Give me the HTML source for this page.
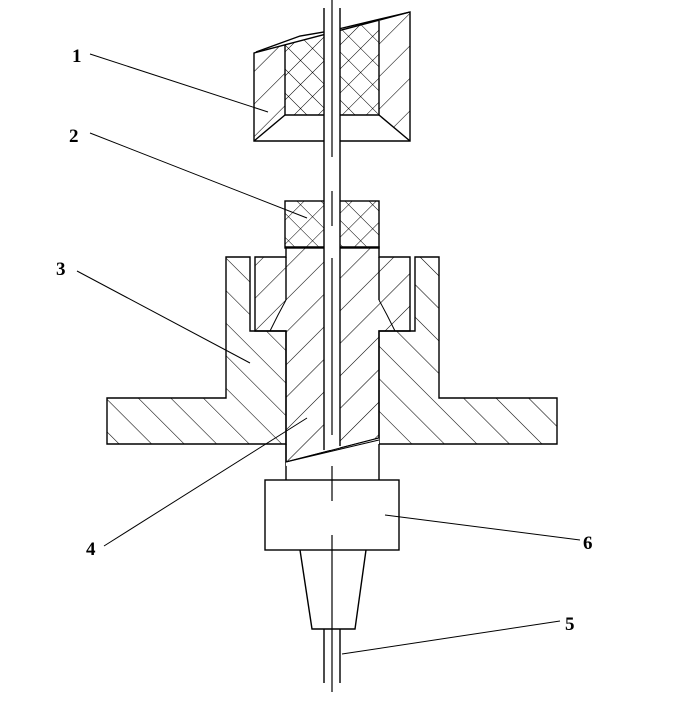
<!DOCTYPE html>
<html><head><meta charset="utf-8"><style>
html,body{margin:0;padding:0;background:#fff;}
svg{display:block;}
text{font-family:"Liberation Serif",serif;font-size:19px;font-weight:bold;}
</style></head><body>
<svg width="691" height="711" viewBox="0 0 691 711" xmlns="http://www.w3.org/2000/svg">
<defs>
<pattern id="hf" patternUnits="userSpaceOnUse" width="23" height="23" patternTransform="rotate(45)">
<line x1="0" y1="0" x2="0" y2="23" stroke="#000" stroke-width="1.1"/></pattern>
<pattern id="hb" patternUnits="userSpaceOnUse" width="23" height="23" patternTransform="rotate(-45)">
<line x1="0" y1="0" x2="0" y2="23" stroke="#000" stroke-width="1.1"/></pattern>
<pattern id="hx" patternUnits="userSpaceOnUse" width="17" height="17" patternTransform="rotate(45)">
<line x1="0" y1="0" x2="0" y2="17" stroke="#000" stroke-width="1"/>
<line x1="0" y1="0" x2="17" y2="0" stroke="#000" stroke-width="1"/></pattern>
</defs>
<g stroke="#000" stroke-width="1.4" fill="none">
<!-- Part 1 -->
<polygon points="254,53 285,45 285,115 254,141" fill="url(#hf)" stroke="none"/>
<polygon points="379,21 410,12 410,141 379,115" fill="url(#hf)" stroke="none"/>
<polygon points="285,45 379,21 379,115 285,115" fill="url(#hx)" stroke="none"/>
<polygon points="254,53 410,12 410,141 254,141"/>
<polyline points="285,45 285,115 379,115 379,21"/>
<line x1="285" y1="115" x2="254" y2="141"/>
<line x1="379" y1="115" x2="410" y2="141"/>
<polyline points="256,52 300,36 330,31 410,12"/>
<!-- Part 2 -->
<rect x="285" y="201" width="94" height="47" fill="url(#hx)"/>
<!-- Part 3 -->
<polygon points="226,257 250,257 250,331 286,331 286,444 107,444 107,398 226,398" fill="url(#hb)"/>
<polygon points="439,257 415,257 415,331 379,331 379,444 557,444 557,398 439,398" fill="url(#hb)"/>
<!-- Part 4 -->
<polygon points="286,247 379,247 379,257 410,257 410,331 379,331 379,438 286,462 286,331 255,331 255,257 286,257" fill="url(#hf)"/>
<line x1="286" y1="257" x2="286" y2="300"/>
<polyline points="286,300 278,315 270,331" stroke-width="1"/>
<line x1="379" y1="257" x2="379" y2="300"/>
<polyline points="379,300 387,315 395,331" stroke-width="1"/>
<line x1="286" y1="444" x2="286" y2="480"/>
<line x1="379" y1="444" x2="379" y2="480"/>
<!-- rod channel -->
<rect x="324" y="0" width="16" height="450" fill="#fff" stroke="none"/>
<polygon points="286,462 379,438 379,444 286,466" fill="#fff" stroke="none"/>
<line x1="324" y1="8" x2="324" y2="450"/>
<line x1="340" y1="8" x2="340" y2="446"/>
<line x1="286" y1="462" x2="379" y2="438" stroke-width="1"/>
<line x1="286" y1="462" x2="379" y2="440" stroke-width="1"/>
<line x1="332" y1="0" x2="332" y2="157" stroke-width="1.2"/>
<line x1="332" y1="191" x2="332" y2="226" stroke-width="1.2"/>
<line x1="332" y1="258" x2="332" y2="435" stroke-width="1.2"/>
<line x1="332" y1="466" x2="332" y2="501" stroke-width="1.2"/>
<!-- Part 6 -->
<rect x="265" y="480" width="134" height="70" fill="#fff"/>
<line x1="332" y1="480" x2="332" y2="501" stroke-width="1.2"/>
<line x1="332" y1="535" x2="332" y2="692" stroke-width="1.2"/>
<polyline points="300,550 312,629 355,629 366,550"/>
<line x1="324" y1="629" x2="324" y2="683"/>
<line x1="340" y1="629" x2="340" y2="683"/>
<!-- leaders -->
<g stroke-width="1">
<line x1="90" y1="54" x2="268" y2="112"/>
<line x1="90" y1="133" x2="307" y2="218"/>
<line x1="77" y1="271" x2="250" y2="363"/>
<line x1="104" y1="546" x2="307" y2="418"/>
<line x1="385" y1="515" x2="580" y2="540"/>
<line x1="342" y1="654" x2="560" y2="621"/>
</g>
</g>
<text x="72" y="62">1</text>
<text x="69" y="142">2</text>
<text x="56" y="275">3</text>
<text x="86" y="555">4</text>
<text x="583" y="549">6</text>
<text x="565" y="630">5</text>
</svg>
</body></html>
